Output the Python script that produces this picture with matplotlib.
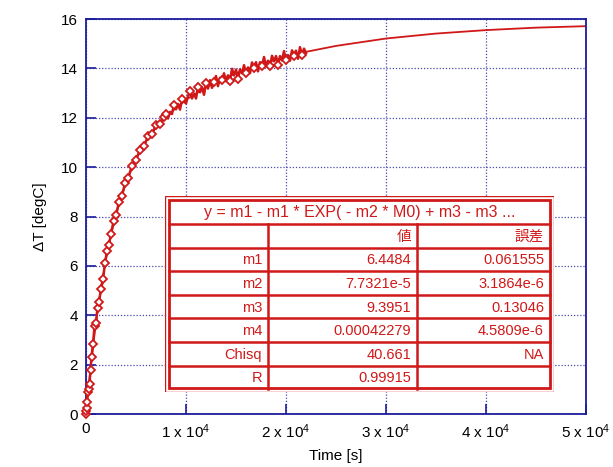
import matplotlib
matplotlib.use("Agg")
import matplotlib.pyplot as plt

plt.rcParams['font.family'] = ['Liberation Sans', 'Noto Sans CJK JP', 'DejaVu Sans']
plt.rcParams['mathtext.fontset'] = 'custom'
plt.rcParams['mathtext.rm'] = 'Liberation Sans'

RED = "#d01818"
NAVY = "#1c1c9c"

# measured data: time [s] and temperature rise [degC]
t_data = [0, 20, 50, 100, 150, 250, 350, 450, 550, 700, 850, 1000, 1150, 1300, 1500,
          1700, 1900, 2100, 2300, 2500, 2750, 3000, 3300, 3600, 3900, 4200, 4600, 5000,
          5400, 5800, 6200, 6600, 7000, 7400, 7800,
          8000, 8200, 8400, 8600, 8800, 9000, 9200, 9400, 9600, 9800,
          10000, 10200, 10400, 10600, 10800, 11000, 11200, 11400, 11600, 11800,
          12000, 12200, 12400, 12600, 12800, 13000, 13200, 13400, 13600, 13800,
          14000, 14200, 14400, 14600, 14800, 15000, 15200, 15400, 15600, 15800,
          16000, 16200, 16400, 16600, 16800, 17000, 17200, 17400, 17600, 17800,
          18000, 18200, 18400, 18600, 18800, 19000, 19200, 19400, 19600, 19800,
          20000, 20200, 20400, 20600, 20800, 21000, 21200, 21400, 21600, 21800, 22000]
dT_data = [0.02, 0.12, 0.25, 0.50, 0.90, 1.02, 1.20, 1.80, 2.30, 2.85, 3.55, 3.70, 4.30, 4.55, 5.05,
           5.45, 6.10, 6.60, 6.85, 7.30, 7.80, 8.05, 8.60, 8.85, 9.35, 9.55, 10.05, 10.30,
           10.70, 10.85, 11.25, 11.35, 11.70, 11.75, 12.05,
           12.15, 11.97, 12.24, 12.15, 12.52, 12.34, 12.56, 12.33, 12.74, 12.66,
           12.58, 12.88, 13.08, 12.78, 12.98, 12.78, 13.23, 13.03, 13.23, 12.93,
           13.39, 13.18, 13.52, 13.21, 13.45, 13.69, 13.28, 13.62, 13.51, 13.80,
           13.48, 13.72, 13.50, 13.98, 13.71, 13.95, 13.58, 13.96, 13.80, 14.13,
           13.81, 14.04, 13.81, 14.24, 14.02, 14.25, 13.88, 14.25, 14.08, 14.46,
           14.09, 14.31, 14.08, 14.51, 14.28, 14.50, 14.13, 14.50, 14.32, 14.70,
           14.32, 14.54, 14.31, 14.73, 14.50, 14.72, 14.39, 14.86, 14.53, 14.80, 14.62]
N_EARLY = 35

# fitted curve
t_fit = [0, 250, 500, 1000, 1500, 2000, 2500, 3000, 4000, 5000, 6000, 7000, 8000, 10000,
         12000, 14000, 16000, 18000, 20000, 22000, 25000, 30000, 35000, 40000, 45000, 50000]
dT_fit = [0.0, 1.07, 2.03, 3.72, 5.12, 6.29, 7.26, 8.09, 9.38, 10.33, 11.05, 11.60, 12.05,
          12.73, 13.24, 13.63, 13.96, 14.24, 14.47, 14.67, 14.91, 15.21, 15.41, 15.55,
          15.65, 15.71]

# fit result table
title = "y = m1 - m1 * EXP( - m2 * M0) + m3 - m3 ..."
col_heads = ["", "値", "誤差"]
row_names = ["m1", "m2", "m3", "m4", "Chisq", "R"]
values = ["6.4484", "7.7321e-5", "9.3951", "0.00042279", "40.661", "0.99915"]
errors = ["0.061555", "3.1864e-6", "0.13046", "4.5809e-6", "NA", ""]

x_ticks = [0, 10000, 20000, 30000, 40000, 50000]
x_labels = ["0"] + [r"%d x $\mathregular{10^{4}}$" % i for i in range(1, 6)]

fig = plt.figure(figsize=(6.13, 4.67), dpi=100)
ax = fig.add_axes([86 / 613, 53 / 467, 500 / 613, 395 / 467])
ax.plot(t_fit, dT_fit, "-", color=RED, lw=1.3, zorder=2)
marks = list(range(N_EARLY)) + list(range(N_EARLY, len(t_data), 4))
ax.plot(t_data, dT_data, "-D", color=RED, lw=1.8, ms=4.5, mfc="white", mec=RED, mew=1.3,
        markevery=marks, zorder=3, clip_on=False)
ax.set_xlim(0, 50000)
ax.set_ylim(0, 16)
ax.set_xticks(x_ticks)
ax.set_xticklabels(x_labels)
ax.set_yticks(range(0, 17, 2))
ax.grid(True, ls=(0, (1, 1.5)), color=NAVY, lw=0.9, alpha=0.8)
ax.tick_params(direction="in", length=7, width=1.2, color=NAVY, labelsize=11, pad=6)
for s in ax.spines.values():
    s.set_color(NAVY)
    s.set_linewidth(1.3)
ax.set_xlabel("Time [s]", fontsize=11, labelpad=6)
ax.set_ylabel("ΔT [degC]", fontsize=11, labelpad=10)

# table drawn in pixel coordinates of its own box
W, H = 389, 196
tb = fig.add_axes([165 / 613, 75 / 467, W / 613, H / 467])
tb.set_xlim(0, W)
tb.set_ylim(H, 0)
tb.axis("off")
tb.add_patch(plt.Rectangle((0, 0), W, H, facecolor="white", edgecolor=RED, lw=1.0))
tb.add_patch(plt.Rectangle((4, 4), W - 8, H - 8, fill=False, edgecolor=RED, lw=2.0))
row_y = [4, 28, 52, 75, 99, 122, 146, 170, 193]
cols = [4, 103, 252, 385]
for y in row_y[1:-1]:
    tb.plot([4, W - 4], [y, y], color=RED, lw=1.8)
for x in cols[1:-1]:
    tb.plot([x, x], [row_y[1], row_y[-1]], color=RED, lw=1.8)
tb.text(W / 2, (row_y[0] + row_y[1]) / 2 + 1, title, ha="center", va="center",
        color=RED, fontsize=11.5)
cells = [col_heads] + [[n, v, e] for n, v, e in zip(row_names, values, errors)]
for r, row in enumerate(cells):
    yc = (row_y[r + 1] + row_y[r + 2]) / 2 + 1
    for c, txt in enumerate(row):
        tb.text(cols[c + 1] - 6, yc, txt, ha="right", va="center", color=RED, fontsize=10.5)

fig.savefig("out.png", dpi=100)
